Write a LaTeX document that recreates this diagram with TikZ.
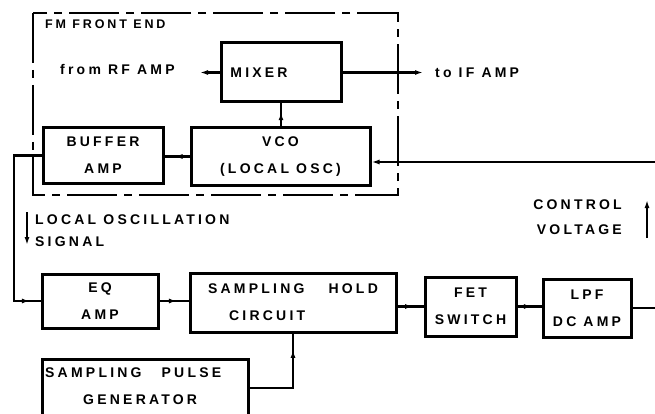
\documentclass[tikz,border=0pt]{standalone}
\usepackage{fontspec}
\newfontfamily\lbl[LetterSpace=23]{Liberation Sans}
\usetikzlibrary{arrows.meta,calc}
\begin{document}
\begin{tikzpicture}[x=1pt,y=-1pt,
  txt/.style={font={\lbl\bfseries\fontsize{14}{27}\selectfont}, inner sep=0pt, align=center},
  blk/.style={draw, line width=3pt, inner sep=0pt, txt},
  conn/.style={line width=2.3pt},
  tip/.style={-{Latex[length=8pt,width=5pt]}}]
\useasboundingbox (0,0) rectangle (655,414);
% FM front end dashed frame
\draw[line width=2.8pt, dash pattern=on 50pt off 7pt on 8pt off 7pt] (33,13) rectangle (398,195);
\node[txt, anchor=west, font={\lbl\bfseries\fontsize{12.5}{14}\selectfont}] (fmt) at (45,24) {FM FRONT END};
% blocks
\node[blk, minimum width=120pt, minimum height=59pt] (mix) at (281,72.5) {MIXER\hspace*{44pt}};
\node[blk, minimum width=179pt, minimum height=57pt] (vco) at (280.5,156.5) {VCO\\(LOCAL OSC)};
\node[blk, minimum width=120pt, minimum height=55pt] (buf) at (103,155.5) {BUFFER\\AMP};
\node[blk, minimum width=116pt, minimum height=54pt] (eq) at (100,301) {EQ\\AMP};
\node[blk, minimum width=206pt, minimum height=59pt, align=left] (sh) at (293,302.5) {SAMPLING\hspace{24pt}HOLD\\\hspace*{21pt}CIRCUIT};
\node[blk, minimum width=91pt, minimum height=59pt] (fet) at (470.5,306.5) {FET\\SWITCH};
\node[blk, minimum width=88pt, minimum height=58pt] (lpf) at (587,308) {LPF\\DC AMP};
\node[draw, line width=3pt, minimum width=206pt, minimum height=81pt] (pg) at (145,399.5) {};
\node[txt, anchor=west, align=left] (pgt) at (45,386.5) {SAMPLING\hspace{20pt}PULSE\\\hspace*{38pt}GENERATOR};
% labels
\node[txt, anchor=west] (rft) at (60,69) {from RF AMP};
\node[txt, anchor=west] (ift) at (435,73) {to IF AMP};
\node[txt, anchor=west, align=left, font={\lbl\bfseries\fontsize{14}{22}\selectfont}] (lot) at (35,231) {LOCAL OSCILLATION\\SIGNAL};
\node[txt, anchor=east, align=right, font={\lbl\bfseries\fontsize{14}{25}\selectfont}] (cvt) at (622,217.5) {CONTROL\\VOLTAGE};
% coordinates
\coordinate (rf) at (200,72.5);
\coordinate (ifa) at (423,72.5);
\coordinate (c2) at (14,301);
\coordinate (r1) at (656,308);
\coordinate (r2) at (656,162);
\coordinate (p1) at (293,388);
\coordinate (cv1) at (647,238);
\coordinate (cv2) at (647,200);
\coordinate (lo1) at (27,212);
\coordinate (lo2) at (27,245);
\coordinate (vm) at (mix.south |- vco.north);
\coordinate (bv) at (vco.west -| buf.east);
\coordinate (es) at (eq.east -| sh.west);
\coordinate (sf) at (sh.east |- fet.west);
\coordinate (fl) at (fet.east -| lpf.west);
\coordinate (ps) at (p1 |- sh.south);
% connectors
\draw[conn, tip] (mix.west) -- (rf);
\draw[conn, tip] (mix.east) -- (ifa);
\draw[conn] (vm) -- (mix.south);
\draw[conn, tip] (vm) -- ($(vm)!0.62!(mix.south)$);
\draw[conn] (vco.west) -- (bv);
\draw[conn, tip] (vco.west) -- ($(vco.west)!0.6!(bv)$);
\draw[conn] (buf.west) -| (c2) -- (eq.west);
\draw[conn, tip] (c2) -- ($(c2)!0.6!(eq.west)$);
\draw[conn] (eq.east) -- (es);
\draw[conn, tip] (eq.east) -- ($(eq.east)!0.6!(es)$);
\draw[conn] (sf) -- (fet.west);
\draw[conn, tip] (sf) -- ($(sf)!0.6!(fet.west)$);
\draw[conn] (fet.east) -- (fl);
\draw[conn, tip] (fet.east) -- ($(fet.east)!0.6!(fl)$);
\draw[conn] (lpf.east) -- (r1);
\draw[conn, tip] (r2) -- (r2 -| vco.east);
\draw[conn] (pg.east |- p1) -- (p1) -- (ps);
\draw[conn, tip] (p1) -- ($(p1)!0.7!(ps)$);
\draw[conn, tip] (cv1) -- (cv2);
\draw[conn, tip] (lo1) -- (lo2);
\end{tikzpicture}
\end{document}
